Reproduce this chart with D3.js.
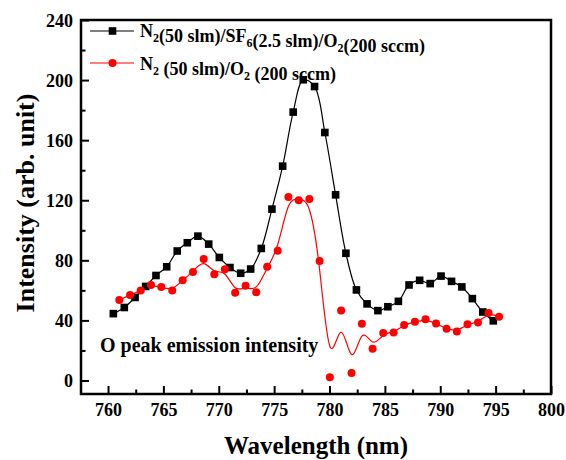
<!DOCTYPE html>
<html>
<head>
<meta charset="utf-8">
<script src="https://cdn.jsdelivr.net/npm/d3@7"></script>
<style>
  body { margin: 0; background: #fff; }
</style>
</head>
<body>
<div id="chart"></div>
<script>
// data
var wavelengthSF6 = [760.48, 761.47, 762.44, 763.40, 764.33, 765.30, 766.25, 767.16, 768.12, 769.09,
  770.05, 771.01, 771.98, 772.88, 773.84, 774.80, 775.77, 776.72, 777.63, 778.65, 779.58, 780.55,
  781.48, 782.43, 783.39, 784.37, 785.27, 786.22, 787.18, 788.14, 789.09, 790.07, 791.02, 791.95,
  792.90, 793.84, 794.79];
var intensitySF6 = [44.5, 48.6, 55.3, 62.6, 69.9, 75.7, 86.2, 91.7, 96.1, 90.8,
  81.9, 75.2, 71.4, 74.2, 87.9, 114.1, 142.7, 178.7, 200.2, 195.7, 165.1, 123.6,
  84.7, 60.3, 51.0, 46.5, 49.1, 52.7, 63.6, 66.7, 64.5, 69.5, 66.0, 62.3,
  54.5, 45.6, 39.7];

var wavelengthO2 = [761.02, 761.99, 762.95, 763.88, 764.81, 765.80, 766.74, 767.67, 768.64, 769.60,
  770.55, 771.48, 772.42, 773.38, 774.37, 775.32, 776.29, 777.22, 778.18, 779.11, 780.03, 781.05,
  781.99, 782.92, 783.89, 784.85, 785.79, 786.74, 787.71, 788.67, 789.62, 790.57, 791.50, 792.46,
  793.41, 794.36, 795.31];
var intensityO2 = [53.5, 56.9, 59.9, 63.5, 62.2, 59.9, 66.8, 72.3, 80.9, 70.8,
  74.1, 58.4, 63.0, 58.8, 75.7, 86.3, 122.1, 120.0, 120.9, 79.6, 2.2, 46.6,
  4.9, 37.7, 21.1, 31.6, 31.9, 37.0, 39.1, 40.8, 37.9, 34.4, 32.6, 37.5,
  38.6, 44.9, 42.5];

var xMajor = [760, 765, 770, 775, 780, 785, 790, 795, 800];
var xMinor = [762.5, 767.5, 772.5, 777.5, 782.5, 787.5, 792.5, 797.5];
var yMajor = [0, 40, 80, 120, 160, 200, 240];
var yMinor = [20, 60, 100, 140, 180, 220];

var FONT = "'Liberation Serif', 'DejaVu Serif', serif";

var svgWidth = 566, svgHeight = 460;
var margin = { top: 20, right: 15, bottom: 66, left: 81 };
var width = svgWidth - margin.left - margin.right;
var height = svgHeight - margin.top - margin.bottom;

var svg = d3.select("#chart").append("svg")
  .attr("width", svgWidth)
  .attr("height", svgHeight)
  .attr("font-family", FONT)
  .attr("font-weight", "bold");

var chartGroup = svg.append("g")
  .attr("transform", `translate(${margin.left}, ${margin.top})`);

var x = d3.scaleLinear().domain([757.56, 800]).range([0, width]);
var y = d3.scaleLinear().domain([-9, 240]).range([height, 0]);

// axes, ticks inward
var xAxis = chartGroup.append("g")
  .attr("transform", `translate(0, ${height})`)
  .call(d3.axisBottom(x).tickValues(xMajor).tickSize(-8).tickPadding(22).tickFormat(d3.format("d")));
var xAxisMinor = chartGroup.append("g")
  .attr("transform", `translate(0, ${height})`)
  .call(d3.axisBottom(x).tickValues(xMinor).tickSize(-4.5).tickFormat(""));
var yAxis = chartGroup.append("g")
  .call(d3.axisLeft(y).tickValues(yMajor).tickSize(-8).tickPadding(8));
var yAxisMinor = chartGroup.append("g")
  .call(d3.axisLeft(y).tickValues(yMinor).tickSize(-4.5).tickFormat(""));

[xAxis, xAxisMinor, yAxis, yAxisMinor].forEach(function(a) {
  a.attr("font-family", FONT).attr("font-size", 18);
  a.select(".domain").remove();
  a.selectAll("line").attr("stroke", "black").attr("stroke-width", 2);
  a.selectAll("text").attr("fill", "black");
});
xAxis.selectAll("text").attr("dy", 0);
yAxis.selectAll("text").attr("dy", "0.34em");

// frame
chartGroup.append("rect")
  .attr("width", width)
  .attr("height", height)
  .attr("fill", "none")
  .attr("stroke", "black")
  .attr("stroke-width", 2.5);

// lines
var blackLine = d3.line()
  .x((d, i) => x(wavelengthSF6[i]))
  .y(d => y(d))
  .curve(d3.curveCatmullRom);
var redLine = d3.line()
  .x((d, i) => x(wavelengthO2[i]))
  .y(d => y(d))
  .curve(d3.curveBasis);

chartGroup.append("path")
  .attr("d", redLine(intensityO2))
  .attr("fill", "none")
  .attr("stroke", "red")
  .attr("stroke-width", 1.2);
chartGroup.append("path")
  .attr("d", blackLine(intensitySF6))
  .attr("fill", "none")
  .attr("stroke", "black")
  .attr("stroke-width", 1.2);

// markers
chartGroup.selectAll("rect.sq")
  .data(intensitySF6)
  .enter()
  .append("rect")
  .attr("class", "sq")
  .attr("x", (d, i) => x(wavelengthSF6[i]) - 3.8)
  .attr("y", d => y(d) - 3.8)
  .attr("width", 7.6)
  .attr("height", 7.6)
  .attr("fill", "black");

chartGroup.selectAll("circle.dot")
  .data(intensityO2)
  .enter()
  .append("circle")
  .attr("class", "dot")
  .attr("cx", (d, i) => x(wavelengthO2[i]))
  .attr("cy", d => y(d))
  .attr("r", 4)
  .attr("fill", "red");

// legend
var legend = svg.append("g");
legend.append("line").attr("x1", 90).attr("x2", 134).attr("y1", 31).attr("y2", 31)
  .attr("stroke", "black").attr("stroke-width", 1.2);
legend.append("rect").attr("x", 108.7).attr("y", 27.2).attr("width", 7.6).attr("height", 7.6).attr("fill", "black");
legend.append("line").attr("x1", 90).attr("x2", 134).attr("y1", 63).attr("y2", 63)
  .attr("stroke", "red").attr("stroke-width", 1.2);
legend.append("circle").attr("cx", 112.5).attr("cy", 63).attr("r", 4).attr("fill", "red");

function addLabel(parent, xPos, yPos, parts) {
  var t = parent.append("text")
    .attr("x", xPos).attr("y", yPos)
    .attr("font-size", "18px")
    .attr("fill", "black");
  parts.forEach(function(p) {
    if (p.sub) {
      t.append("tspan").attr("font-size", "12px").attr("dy", 5).text(p.sub);
      t.append("tspan").attr("dy", -5).text("");
    } else {
      t.append("tspan").text(p.t);
    }
  });
  return t;
}

addLabel(legend, 140, 37, [{t: "N"}, {sub: "2"}, {t: "(50 slm)/SF"}, {sub: "6"},
  {t: "(2.5 slm)/O"}, {sub: "2"}, {t: "(200 sccm)"}]);
addLabel(legend, 140, 70, [{t: "N"}, {sub: "2"}, {t: " (50 slm)/O"}, {sub: "2"}, {t: " (200 sccm)"}]);

// annotation
svg.append("text")
  .attr("x", 100)
  .attr("y", 352)
  .attr("font-size", "20px")
  .attr("fill", "black")
  .text("O peak emission intensity");

// axis titles
svg.append("text")
  .attr("x", margin.left + width / 2)
  .attr("y", 454)
  .attr("text-anchor", "middle")
  .attr("font-size", "25px")
  .attr("fill", "black")
  .text("Wavelength (nm)");

svg.append("text")
  .attr("transform", "rotate(-90)")
  .attr("x", -203)
  .attr("y", 34)
  .attr("text-anchor", "middle")
  .attr("font-size", "26px")
  .attr("fill", "black")
  .text("Intensity (arb. unit)");
</script>
</body>
</html>
